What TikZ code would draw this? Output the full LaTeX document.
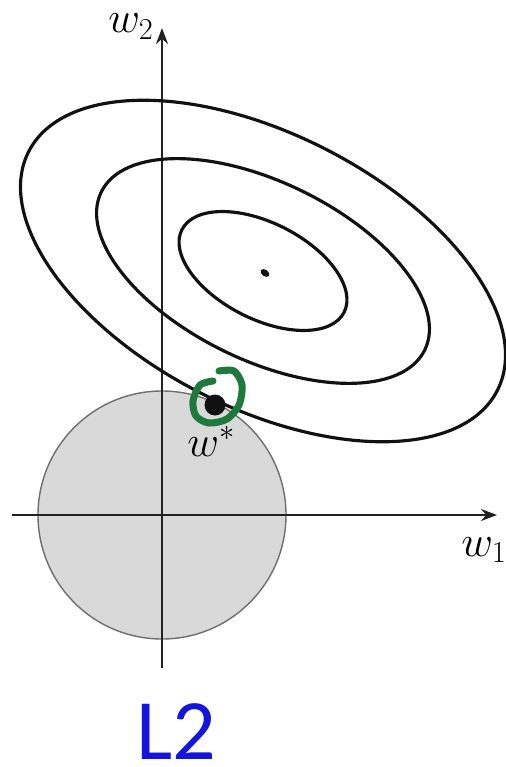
\documentclass[tikz,border=0pt]{standalone}
\usepackage{fontspec}
\newfontfamily\labelsans{Carlito}
\usetikzlibrary{arrows.meta,calc,shapes.geometric}
\definecolor{ink}{HTML}{111111}
\definecolor{axisc}{HTML}{222222}
\definecolor{ballfill}{HTML}{D9D9D9}
\definecolor{ballline}{HTML}{6E6E6E}
\definecolor{penc}{HTML}{1E7A3C}
\definecolor{titlec}{HTML}{1414DC}
\tikzset{
  axisln/.style={draw=axisc, line width=1.3pt, -{Stealth[length=3.2mm,width=2.4mm]}},
  contour/.style={draw=ink, line width=1.8pt},
  ballreg/.style={draw=ballline, line width=0.8pt, fill=ballfill},
  optpt/.style={circle, fill=ink, minimum size=0.42cm, inner sep=0pt},
  ctrpt/.style={ellipse, fill=ink, inner sep=0pt},
  hilite/.style={draw=penc, line width=4pt, line cap=round, line join=round},
  wlbl/.style={inner sep=0pt, anchor=base west, font=\fontsize{26}{30}\selectfont},
  title/.style={inner sep=0pt, font=\labelsans\fontsize{49}{56}\selectfont, text=titlec},
}
\begin{document}
\begin{tikzpicture}[x=0.02cm, y=-0.02cm]
\useasboundingbox (0,0) rectangle (506,767);
% anchor points
\coordinate (origin) at (162,515);
\coordinate (ybot)   at (162,668);
\coordinate (ytop)   at (162,28);
\coordinate (xleft)  at (12,515);
\coordinate (xright) at (497,515);
\coordinate (opt)    at (263,271);
% L2 ball
\path[ballreg] (origin) circle [radius=124];
% axes
\draw[axisln] (ybot) -- (ytop);
\draw[axisln] (xleft) -- (xright);
% level sets of the loss
\draw[contour, rotate around={-27:(opt)}] (opt) ellipse [x radius=263, y radius=137];
\draw[contour, rotate around={-26:(opt)}] (opt) ellipse [x radius=180, y radius=89];
\draw[contour, rotate around={-27:(opt)}] (opt) ellipse [x radius=91, y radius=48];
\node[ctrpt, minimum width=0.2cm, minimum height=0.13cm, rotate=-35] (ctr) at (265,273) {};
% solution
\node[optpt] (wstar) at (215,405) {};
\draw[hilite] plot[smooth] coordinates {(213,381) (200,385) (193,401) (196,416) (209,423) (227,419) (239,405) (242,385) (234,371) (219,371)};
% labels
\node[wlbl] (lw2) at (108,33) {$w_2$};
\node[wlbl] (lw1) at (461,556) {$w_1$};
\node[wlbl] (lws) at (187,456) {$w^*$};
\node[title] (ttl) at (176,732) {L2};
\end{tikzpicture}
\end{document}
